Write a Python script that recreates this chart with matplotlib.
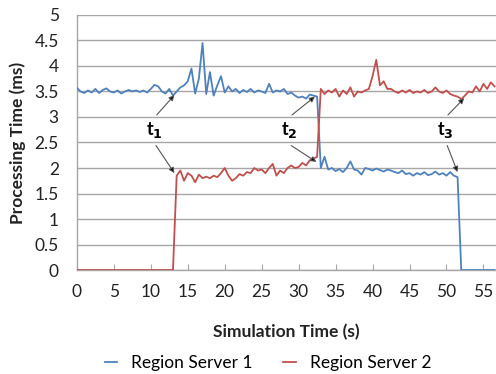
import numpy as np
import matplotlib
matplotlib.use("Agg")
import matplotlib.pyplot as plt

plt.rcParams['font.family'] = ['Lato', 'DejaVu Sans']

# sample times (s), 0.5 s step
time_s = np.arange(0, 57.0, 0.5)

rs1 = [3.57, 3.50, 3.47, 3.52, 3.48, 3.55, 3.47, 3.53, 3.56, 3.50,
       3.48, 3.52, 3.46, 3.50, 3.53, 3.50, 3.52, 3.49, 3.52, 3.48,
       3.55, 3.63, 3.60, 3.50, 3.46, 3.55, 3.42, 3.50, 3.58, 3.62,
       3.70, 3.95, 3.46, 3.75, 4.45, 3.45, 3.88, 3.42, 3.62, 3.80,
       3.48, 3.60, 3.50, 3.55, 3.47, 3.53, 3.49, 3.55, 3.48, 3.52,
       3.50, 3.47, 3.65, 3.48, 3.52, 3.50, 3.55, 3.45, 3.48, 3.42,
       3.38, 3.40, 3.36, 3.44, 3.42, 3.40, 2.00, 2.22, 1.97, 2.00,
       1.94, 1.98, 1.92, 2.00, 2.13, 1.97, 1.95, 1.87, 2.00, 1.98,
       1.95, 1.99, 1.96, 1.93, 1.97, 1.95, 1.92, 1.90, 1.95, 1.88,
       1.90, 1.85, 1.90, 1.87, 1.92, 1.86, 1.88, 1.93, 1.87, 1.90,
       1.85, 1.92, 1.85, 1.82, 0.00, 0.00, 0.00, 0.00, 0.00, 0.00,
       0.00, 0.00, 0.00, 0.00]

rs2 = [0.00, 0.00, 0.00, 0.00, 0.00, 0.00, 0.00, 0.00, 0.00, 0.00,
       0.00, 0.00, 0.00, 0.00, 0.00, 0.00, 0.00, 0.00, 0.00, 0.00,
       0.00, 0.00, 0.00, 0.00, 0.00, 0.00, 0.00, 1.85, 1.95, 1.75,
       1.90, 1.85, 1.72, 1.87, 1.80, 1.83, 1.80, 1.85, 1.82, 1.90,
       2.00, 1.85, 1.75, 1.80, 1.88, 1.85, 1.92, 1.90, 2.00, 1.95,
       1.97, 1.90, 2.00, 2.08, 1.85, 1.95, 1.90, 2.00, 2.05, 2.00,
       2.02, 2.10, 2.05, 2.15, 2.18, 2.22, 3.55, 3.45, 3.52, 3.48,
       3.55, 3.40, 3.52, 3.45, 3.58, 3.40, 3.50, 3.48, 3.52, 3.55,
       3.80, 4.12, 3.62, 3.70, 3.55, 3.55, 3.50, 3.47, 3.52, 3.48,
       3.53, 3.47, 3.50, 3.48, 3.53, 3.47, 3.50, 3.58, 3.50, 3.47,
       3.52, 3.45, 3.42, 3.40, 3.35, 3.42, 3.50, 3.48, 3.60, 3.50,
       3.65, 3.55, 3.68, 3.60]

series_names = ["Region Server 1", "Region Server 2"]
x_ticks = [0, 5, 10, 15, 20, 25, 30, 35, 40, 45, 50, 55]
y_ticks = [0, 0.5, 1, 1.5, 2, 2.5, 3, 3.5, 4, 4.5, 5]
y_tick_labels = ["0", "0.5", "1", "1.5", "2", "2.5", "3", "3.5", "4", "4.5", "5"]

# annotation labels: (label, label position, upper tip, lower tip)
annotations = [
    ("t$_\\mathbf{1}$", (10.5, 2.74), (13.2, 3.43), (13.2, 1.90)),
    ("t$_\\mathbf{2}$", (28.8, 2.74), (32.2, 3.40), (32.4, 2.12)),
    ("t$_\\mathbf{3}$", (49.9, 2.74), (52.4, 3.37), (51.5, 1.92)),
]

blue = "#4F81BD"
red = "#C0504D"
grid_c = "#A6A6A6"
txt_c = "#222222"
fs = 12.5

fig = plt.figure(figsize=(4.96, 3.74), dpi=100)
ax = fig.add_axes([0.155, 0.278, 0.845, 0.682])

ax.plot(time_s, rs1, color=blue, lw=1.3, label=series_names[0], zorder=3)
ax.plot(time_s, rs2, color=red, lw=1.3, label=series_names[1], zorder=3)

ax.set_xlim(0, 56.7)
ax.set_ylim(0, 5)
ax.set_xticks(x_ticks)
ax.set_yticks(y_ticks)
ax.set_yticklabels(y_tick_labels)
ax.grid(axis='y', color=grid_c, lw=1.0)
ax.set_axisbelow(True)

for s in ['top', 'right']:
    ax.spines[s].set_visible(False)
for s in ['left', 'bottom']:
    ax.spines[s].set_color(grid_c)
    ax.spines[s].set_linewidth(1.0)

ax.tick_params(axis='x', direction='in', length=4, color=grid_c, labelsize=fs,
               pad=10, labelcolor=txt_c)
ax.tick_params(axis='y', length=0, labelsize=fs, pad=13, labelcolor=txt_c)

ax.set_xlabel("Simulation Time (s)", fontsize=fs, fontweight='bold', labelpad=17,
              color=txt_c)
ax.set_ylabel("Processing Time (ms)", fontsize=fs, fontweight='bold', labelpad=6,
              color=txt_c)

for lab, (lx, ly), up, lo in annotations:
    ax.text(lx, ly, lab, fontsize=13, fontweight='bold', ha='center', va='center',
            zorder=5)
    ax.annotate("", xy=up, xytext=(lx + 0.3, ly + 0.3),
                arrowprops=dict(arrowstyle='-|>', color='#555555', lw=0.8,
                                mutation_scale=8, shrinkA=0, shrinkB=0,
                                fc='black'), zorder=5)
    ax.annotate("", xy=lo, xytext=(lx + 0.2, ly - 0.3),
                arrowprops=dict(arrowstyle='-|>', color='#555555', lw=0.8,
                                mutation_scale=8, shrinkA=0, shrinkB=0,
                                fc='black'), zorder=5)

fig.legend(loc='center', bbox_to_anchor=(0.54, 0.03), ncol=2, frameon=False,
           fontsize=fs, handlelength=0.7, columnspacing=1.8, handletextpad=0.8)

fig.savefig("out.png", dpi=100)
